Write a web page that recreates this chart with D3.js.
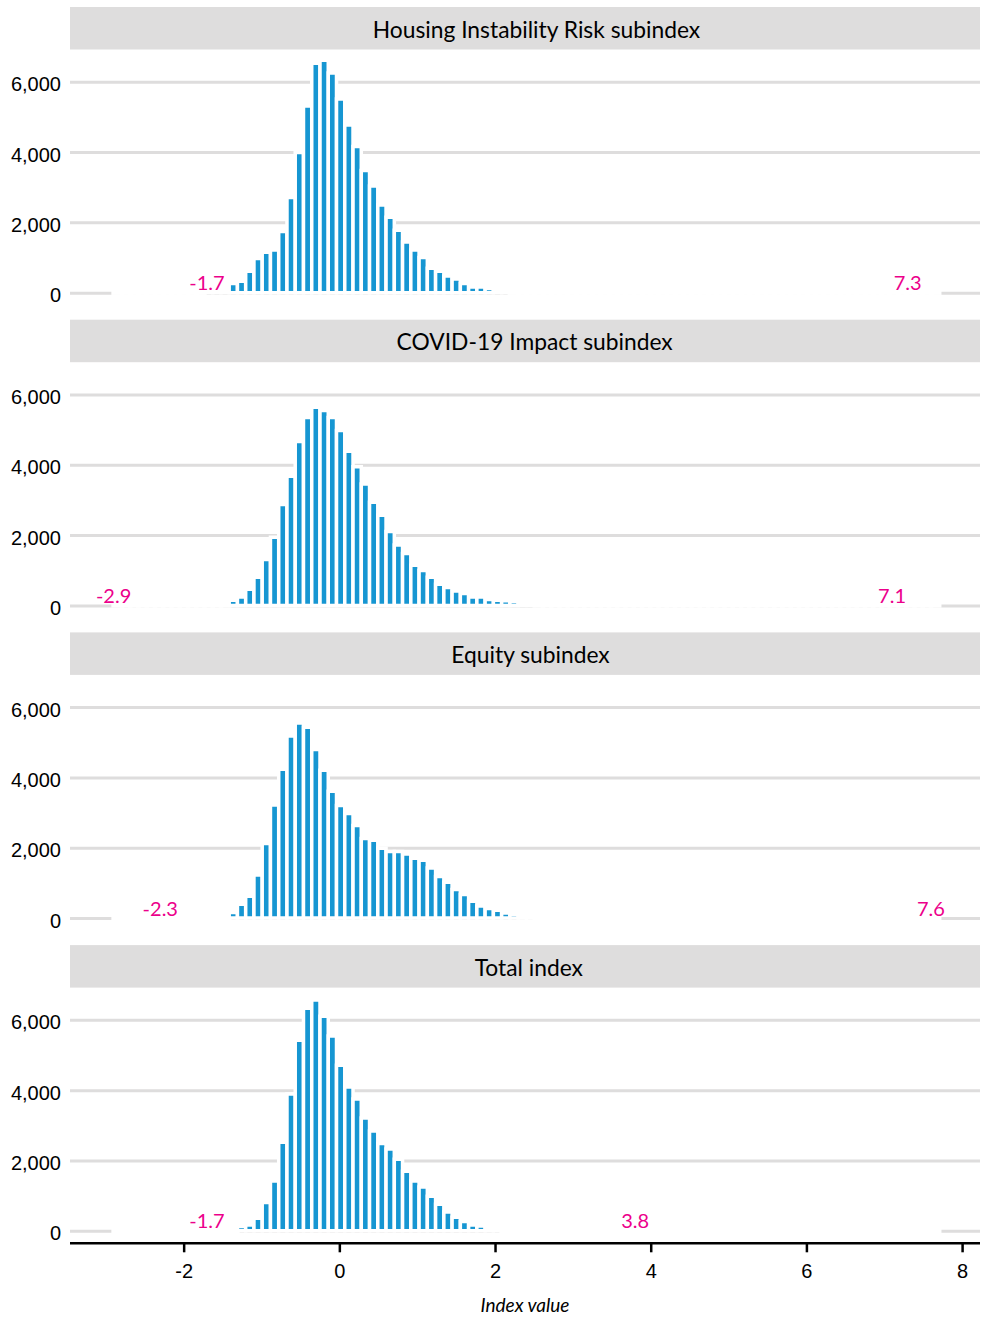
<!DOCTYPE html>
<html>
  <head>
    <meta charset="utf-8">
    <style>
      body {
        margin:0;
        background:#fff;
        font-family:Lato, "Open Sans", sans-serif;
      }
      .grid .tick line {
        stroke:#dedddd;
        stroke-width:3;
      }
      .grid .domain {
        display:none;
      }
      .grid .tick text {
        fill:#000;
        font-size:20px;
      }
      .bar {
        fill:#1696d2;
        stroke:#fff;
        stroke-width:3.5;
      }
      .bar.empty {
        fill:none;
        stroke-width:4.5;
        stroke-linecap:square;
      }
      .strip rect {
        fill:#dedddd;
      }
      .strip text {
        font-size:22.8px;
        fill:#000;
      }
      .extreme {
        fill:#ec008b;
        font-size:20px;
      }
      .xaxis .domain, .xaxis .tick line {
        stroke:#000;
        stroke-width:2.5;
      }
      .xaxis .tick text {
        fill:#000;
        font-size:20px;
      }
    </style>
  </head>
  <body>
    <div class="graph"></div>
    <script src="https://cdn.jsdelivr.net/npm/d3@7"></script>
    <script>
      // facet titles
      var panelTitles = ["Housing Instability Risk subindex", "COVID-19 Impact subindex", "Equity subindex", "Total index"];

      // histogram bins shared by every facet (100 bins over the pooled range)
      var binMin = -2.9;
      var binMax = 7.6;
      var binCount = 100;

      // counts per bin, starting at bin index *Start
      var housingStart = 11;
      var housingCounts = [10, 30, 80, 260, 325, 610, 971, 1150, 1216, 1738, 2705, 3984, 5310, 6523, 6608, 6248, 5509, 4770, 4155, 3472, 3035, 2495, 2145, 1775, 1443, 1216, 999, 695, 610, 477, 391, 260, 165, 160, 120, 60, 30];
      var covidStart = 14;
      var covidCounts = [146, 241, 459, 800, 1303, 1937, 2866, 3672, 4658, 5340, 5633, 5539, 5340, 4971, 4382, 3946, 3453, 2933, 2563, 2099, 1719, 1474, 1141, 991, 800, 601, 507, 411, 337, 241, 241, 166, 150, 135, 112, 50, 20];
      var equityStart = 14;
      var equityCounts = [157, 394, 621, 1228, 2119, 3218, 4232, 5180, 5549, 5426, 4791, 4203, 3606, 3199, 2971, 2631, 2262, 2213, 1986, 1891, 1891, 1824, 1702, 1645, 1426, 1181, 1019, 812, 669, 479, 345, 271, 223, 146, 112, 50, 20];
      var totalStart = 15;
      var totalCounts = [121, 166, 357, 803, 1417, 2517, 3891, 5417, 6327, 6563, 6100, 5540, 4707, 4090, 3749, 3208, 2839, 2480, 2327, 2034, 1693, 1417, 1247, 982, 755, 536, 385, 263, 166, 138, 60, 20];

      // min / max of each index (pink labels)
      var minValues = [-1.7, -2.9, -2.3, -1.7];
      var maxValues = [7.3, 7.1, 7.6, 3.8];

      var yTicks = [0, 2000, 4000, 6000];
      var xTicks = [-2, 0, 2, 4, 6, 8];

      var starts = [housingStart, covidStart, equityStart, totalStart];
      var counts = [housingCounts, covidCounts, equityCounts, totalCounts];

      var width = 981;
      var height = 1317;
      var left = 70, right = 980;
      var firstTop = 7, period = 312.7, stripH = 42.5, panelH = 255.7;

      var binWidth = (binMax - binMin) / (binCount - 1);
      var edges = d3.range(binCount + 1).map(function (i) { return binMin + i*binWidth; });

      var x = d3.scaleLinear().domain([-3.46, 8.23]).range([left, right]);

      var svg = d3.select(".graph").append("svg")
        .attr("width", width)
        .attr("height", height);

      panelTitles.forEach(function (title, p) {
        var top = firstTop + p*period;
        var pTop = top + stripH;
        var pBottom = pTop + panelH;

        var y = d3.scaleLinear().domain([-355, 6915]).range([pBottom, pTop]);

        var strip = svg.append("g").attr("class", "strip");
        strip.append("rect")
          .attr("x", left).attr("y", top)
          .attr("width", right - left).attr("height", stripH);
        var st = strip.append("text")
          .attr("y", top + 30.5)
          .attr("text-anchor", "middle")
          .text(title);
        var len = st.node().getComputedTextLength();
        st.attr("x", (left + right)/2 + 0.035*len);

        svg.append("g")
          .attr("class", "grid")
          .attr("transform", "translate(" + left + ",0)")
          .call(d3.axisLeft(y).tickValues(yTicks).tickSizeInner(-(right - left)).tickSizeOuter(0)
            .tickPadding(9).tickFormat(d3.format(",")))
          .selectAll(".tick text").attr("dy", "0.45em");

        var full = d3.range(binCount).map(function (i) {
          var j = i - starts[p];
          return (j >= 0 && j < counts[p].length) ? counts[p][j] : 0;
        });

        // empty bins first (white outline only), then filled bins on top
        var bars = svg.append("g");
        bars.selectAll("path.empty")
          .data(full.map(function (d, i) { return {d:d, i:i}; }).filter(function (o) { return o.d === 0; }))
          .enter().append("path")
          .attr("class", "bar empty")
          .attr("d", function (o) {
            return "M" + x(edges[o.i]) + "," + y(0) + "H" + x(edges[o.i + 1]);
          });
        bars.selectAll("path.full")
          .data(full.map(function (d, i) { return {d:d, i:i}; }).filter(function (o) { return o.d > 0; }))
          .enter().append("path")
          .attr("class", "bar full")
          .attr("d", function (o) {
            var x0 = x(edges[o.i]), x1 = x(edges[o.i + 1]);
            return "M" + x0 + "," + y(0) + "H" + x1 + "V" + y(o.d) + "H" + x0 + "Z";
          });

        svg.append("text")
          .attr("class", "extreme")
          .attr("x", x(minValues[p]))
          .attr("y", y(0) - 2.5)
          .attr("text-anchor", "middle")
          .text(String(minValues[p]));
        svg.append("text")
          .attr("class", "extreme")
          .attr("x", x(maxValues[p]))
          .attr("y", y(0) - 2.5)
          .attr("text-anchor", "middle")
          .text(String(maxValues[p]));

        if (p === panelTitles.length - 1) {
          var ax = svg.append("g")
            .attr("class", "xaxis")
            .attr("transform", "translate(0," + pBottom + ")")
            .call(d3.axisBottom(x).tickValues(xTicks).tickSizeInner(9).tickSizeOuter(0)
              .tickPadding(12).tickFormat(function (d) { return String(d); }));
          ax.select(".domain").attr("d", "M" + left + ",0H" + right);

          svg.append("text")
            .attr("x", (left + right)/2)
            .attr("y", pBottom + 69)
            .attr("text-anchor", "middle")
            .style("font-style", "italic")
            .style("font-size", "19px")
            .text("Index value");
        }
      });
    </script>
  </body>
</html>
